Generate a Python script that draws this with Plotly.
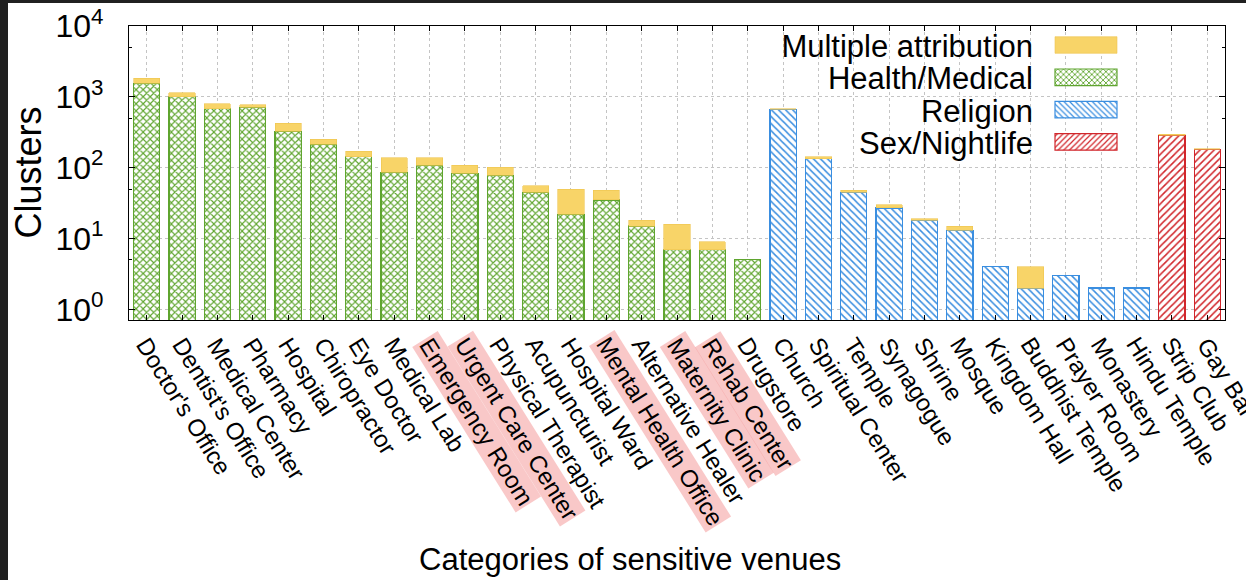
import plotly.graph_objects as go

# ---------------- data ----------------
health_cats = ["Doctor's Office", "Dentist's Office", "Medical Center", "Pharmacy", "Hospital",
               "Chiropractor", "Eye Doctor", "Medical Lab", "Emergency Room", "Urgent Care Center",
               "Physical Therapist", "Acupuncturist", "Hospital Ward", "Mental Health Office",
               "Alternative Healer", "Maternity Clinic", "Rehab Center", "Drugstore"]
health_vals = [1550, 1010, 676, 714, 328, 213, 143, 86, 108, 83, 78, 45, 22, 35, 15, 7, 7, 5]
health_multi = [280, 140, 129, 57, 93, 38, 28, 52, 30, 25, 23, 11, 28, 13, 3, 9, 2, 0]

religion_cats = ["Church", "Spiritual Center", "Temple", "Synagogue", "Shrine", "Mosque",
                 "Kingdom Hall", "Buddhist Temple", "Prayer Room", "Monastery", "Hindu Temple"]
religion_vals = [670, 134, 45, 27, 18, 13, 4, 2, 3, 2, 2]
religion_multi = [5, 9, 3, 3, 1, 2, 0, 2, 0, 0, 0]

nightlife_cats = ["Strip Club", "Gay Bar"]
nightlife_vals = [285, 181]
nightlife_multi = [10, 3]

highlighted = ["Emergency Room", "Urgent Care Center", "Mental Health Office",
               "Maternity Clinic", "Rehab Center"]

y_tick_vals = [1, 10, 100, 1000, 10000]
y_tick_text = ["10<sup>0</sup>", "10<sup>1</sup>", "10<sup>2</sup>", "10<sup>3</sup>", "10<sup>4</sup>"]
y_minor_vals = [5, 50, 500, 5000]

categories = health_cats + religion_cats + nightlife_cats
multi_vals = health_multi + religion_multi + nightlife_multi

# ---------------- style ----------------
FONT = "Liberation Sans, Arial, Helvetica, sans-serif"
GREEN = "#5fa52f"
BLUE = "#3a8ee0"
RED = "#d1262b"
YELLOW = "#f8d468"
GRID = "#c4c4c4"
PINK = "rgba(240,110,110,0.38)"
DARK = "#202020"

fig = go.Figure()


def add_group(name, x, y, color, shape, rank, solidity):
    fig.add_trace(go.Bar(
        name=name, x=x, y=y, width=0.74, legendrank=rank,
        marker=dict(color="white", line=dict(color=color, width=1.2),
                    pattern=dict(shape=shape, fgcolor=color, bgcolor="white",
                                 size=5, solidity=solidity, fillmode="replace")),
    ))


add_group("Health/Medical", health_cats, health_vals, GREEN, "x", 2, 0.4)
add_group("Religion", religion_cats, religion_vals, BLUE, "\\", 3, 0.3)
add_group("Sex/Nightlife", nightlife_cats, nightlife_vals, RED, "/", 4, 0.3)

fig.add_trace(go.Bar(
    name="Multiple attribution", x=categories,
    y=[v if v > 0 else None for v in multi_vals], width=0.74, legendrank=1,
    marker=dict(color=YELLOW, line=dict(color="#efc550", width=0.6)),
))

annotations = []
for cat in categories:
    annotations.append(dict(
        x=cat, xref="x", y=0, yref="paper", text=cat, textangle=58,
        xanchor="left", yanchor="top", showarrow=False,
        xshift=-18, yshift=-10, borderpad=1,
        bgcolor=PINK if cat in highlighted else "rgba(0,0,0,0)",
        font=dict(family=FONT, size=24, color="black"),
    ))

annotations.append(dict(
    text="Categories of sensitive venues", x=0.457, xref="paper", y=-0.816, yref="paper",
    xanchor="center", yanchor="middle", showarrow=False,
    font=dict(family=FONT, size=31, color="black")))
annotations.append(dict(
    text="Clusters", x=-0.0926, xref="paper", y=0.5, yref="paper", textangle=-90,
    xanchor="center", yanchor="middle", showarrow=False,
    font=dict(family=FONT, size=36, color="black")))

# dark frame strips of the page (left and top edges)
shapes = [
    dict(type="rect", xref="paper", yref="paper", xsizemode="pixel", xanchor=0,
         x0=-129, x1=-121, y0=-0.9, y1=1.1,
         fillcolor=DARK, line=dict(width=0), layer="above"),
    dict(type="rect", xref="paper", yref="paper", ysizemode="pixel", yanchor=1,
         x0=-0.12, x1=1.02, y0=23, y1=26,
         fillcolor=DARK, line=dict(width=0), layer="above"),
]

fig.update_layout(
    width=1246, height=580,
    margin=dict(l=129, r=21, t=26, b=260, autoexpand=False),
    paper_bgcolor="white", plot_bgcolor="white",
    barmode="stack",
    font=dict(family=FONT, color="black"),
    annotations=annotations, shapes=shapes,
    legend=dict(x=0.72, xanchor="left", y=1.0, yanchor="top",
                bgcolor="rgba(0,0,0,0)", font=dict(family=FONT, size=31, color="black"),
                traceorder="normal"),
    xaxis=dict(type="category", categoryorder="array", categoryarray=categories,
               range=[-0.5, len(categories) - 0.5], showticklabels=False,
               ticks="inside", ticklen=5, tickcolor="black",
               showline=True, linecolor="black", linewidth=1.2, mirror="ticks",
               showgrid=True, gridcolor=GRID, griddash="dot", gridwidth=1, zeroline=False),
    yaxis=dict(type="log", range=[-0.15, 4.0], tickvals=y_tick_vals, ticktext=y_tick_text,
               tickfont=dict(family=FONT, size=32, color="black"), ticklabelstandoff=18,
               ticks="inside", ticklen=6, tickcolor="black",
               showline=True, linecolor="black", linewidth=1.2, mirror="ticks",
               showgrid=True, gridcolor=GRID, griddash="dot", gridwidth=1, zeroline=False,
               minor=dict(tickvals=y_minor_vals, ticks="inside", ticklen=3,
                          tickcolor="black", showgrid=False)),
)

# Page tweaks: no body margin; legend laid out gnuplot-style (text right-aligned, wide swatch on the right)
post_js = """
document.body.style.margin = '0';
document.body.style.overflow = 'hidden';
(function(){
  var gd = document.getElementById('{plot_id}');
  var ROW = 32.3, SW = 62, SH = 16.6, GAP = 22, SX = 1055, SY = 45;
  function fix(){
    var leg = gd.querySelector('g.legend');
    if (!leg) return;
    var sb = leg.querySelector('g.scrollbox');
    if (sb) sb.removeAttribute('clip-path');
    leg.removeAttribute('clip-path');
    var bg = leg.querySelector('rect.bg');
    if (bg) { bg.style.fill = 'none'; bg.style.stroke = 'none'; }
    var items = leg.querySelectorAll('g.traces');
    for (var i = 0; i < items.length; i++) {
      var it = items[i];
      it.setAttribute('transform', 'translate(0,' + (i * ROW) + ')');
      var paths = it.querySelectorAll('g.legendpoints path');
      var p0 = null;
      for (var k = 0; k < paths.length; k++) {
        paths[k].setAttribute('d', 'M0,' + (SH/2) + 'H' + SW + 'V' + (-SH/2) + 'H0Z');
        if (!p0) p0 = paths[k];
      }
      var t = it.querySelector('text.legendtext');
      if (p0 && t) {
        var pm = p0.getScreenCTM(), im = it.getScreenCTM();
        var left = pm.e - im.e;
        t.setAttribute('x', left - GAP);
        t.setAttribute('text-anchor', 'end');
        t.style.textAnchor = 'end';
        var ts = t.querySelectorAll('tspan');
        for (var j = 0; j < ts.length; j++) { if (ts[j].hasAttribute('x')) ts[j].setAttribute('x', left - GAP); }
      }
    }
    var first = items.length ? items[0].querySelector('g.legendpoints path') : null;
    if (first) {
      var r = first.getBoundingClientRect();
      var dx = SX - r.left, dy = (SY - SH/2) - r.top;
      var tr = leg.getAttribute('transform') || 'translate(0,0)';
      var m = /translate\\(\\s*([-\\d.e]+)[\\s,]+([-\\d.e]+)\\s*\\)/.exec(tr);
      var x0 = m ? parseFloat(m[1]) : 0, y0 = m ? parseFloat(m[2]) : 0;
      leg.setAttribute('transform', 'translate(' + (x0 + dx) + ',' + (y0 + dy) + ')');
    }
  }
  fix();
  setTimeout(fix, 50);
  setTimeout(fix, 300);
  if (gd && gd.on) gd.on('plotly_afterplot', function(){ setTimeout(fix, 0); });
})();
"""

fig.write_html("out.html", post_script=post_js, config={"displayModeBar": False})
